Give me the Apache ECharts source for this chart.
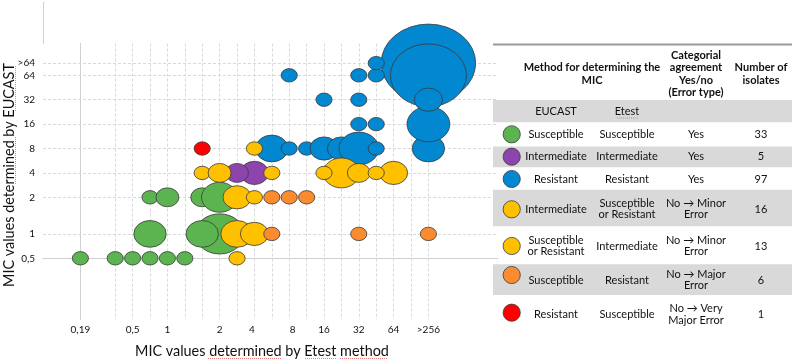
<!DOCTYPE html>
<html>
<head>
<meta charset="utf-8">
<script src="https://cdn.jsdelivr.net/npm/echarts@6/dist/echarts.min.js"></script>
<style>
	html, body { margin: 0; padding: 0; background: #fff; }
	#chart { width: 794px; height: 361px; }
</style>
</head>
<body>
<div id="chart"></div>
<script>
// Axis positions: x/y are dilution steps, labels are MIC values
let xGridPos = [0, 2, 3, 4, 5, 6, 7, 8, 9, 10, 11, 12, 13, 14, 15, 16, 17, 18, 19, 20];
let xLabelPos = [0, 3, 5, 8, 9.85, 12.2, 14, 16, 18, 20];
let xLabels = ['0,19', '0,5', '1', '2', '4', '8', '16', '32', '64', '>256'];
let yLabelPos = [0, 2, 5, 7, 9, 11, 13, 15, 16];
let yLabels = ['0,5', '1', '2', '4', '8', '16', '32', '64', '>64'];

// Bubbles: [etest step, eucast step, number of isolates]
let susSus = [[0, 0, 1], [2, 0, 1], [3, 0, 1], [4, 0, 1], [5, 0, 1], [6, 0, 1],
	[4, 2, 4], [8, 2, 9], [7, 2, 4],
	[4, 5, 1], [5, 5, 2], [7, 5, 2], [8, 5, 5]];
let intInt = [[10, 7, 3], [9, 7, 2]];
let resRes = [[20, 16, 34], [20, 15, 22], [20, 9, 4], [20, 11, 7], [20, 13, 3],
	[11, 9, 4], [12, 9, 1], [13, 9, 1], [14, 9, 3], [15, 9, 3], [16, 9, 6], [17, 9, 1],
	[16, 11, 1], [17, 11, 1], [14, 13, 1], [16, 13, 1],
	[12, 15, 1], [16, 15, 1], [17, 15, 1], [17, 16, 1]];
let intSorR = [[15, 7, 5], [18, 7, 3], [16, 7, 2], [14, 7, 1], [17, 7, 1], [7, 7, 1], [8, 7, 2], [11, 7, 1]];
let sorRInt = [[10, 9, 1], [9, 5, 3], [10, 5, 1], [9, 2, 4], [10, 2, 3], [9, 0, 1]];
let susRes = [[11, 5, 1], [12, 5, 1], [13, 5, 1], [11, 2, 1], [16, 2, 1], [20, 2, 1]];
let resSus = [[7, 9, 1]];

// Table on the right
let tableColors = ['#5BB450', '#8E44AD', '#0288D1', '#FFC000', '#FFC000', '#FA8B2F', '#FF0000'];
let tableEucast = ['Susceptible', 'Intermediate', 'Resistant', 'Intermediate', 'Susceptible\nor Resistant', 'Susceptible', 'Resistant'];
let tableEtest = ['Susceptible', 'Intermediate', 'Resistant', 'Susceptible\nor Resistant', 'Intermediate', 'Resistant', 'Susceptible'];
let tableAgreement = ['Yes', 'Yes', 'Yes', 'No \u2192 Minor\nError', 'No \u2192 Minor\nError', 'No \u2192 Major\nError', 'No \u2192 Very\nMajor Error'];
let tableIsolates = ['33', '5', '97', '16', '13', '6', '1'];

let font = 'Lato, "Open Sans", sans-serif';

function bubbleSize(d) {
	let w = 16.2 * Math.sqrt(d[2]);
	return [w, w / 1.21];
}

function bubbleSeries(name, data, color) {
	return {
		name: name,
		type: 'scatter',
		data: data,
		symbol: 'circle',
		symbolSize: bubbleSize,
		clip: false,
		itemStyle: { color: color, borderColor: '#3a3a3a', borderWidth: 0.8, opacity: 1 },
		emphasis: { disabled: true }
	};
}

// spell-check squiggle seen under some words of the original
function squiggle(x1, y1, x2, y2) {
	return { type: 'line', shape: { x1: x1, y1: y1, x2: x2, y2: y2 }, style: { stroke: '#f08080', lineWidth: 1, lineDash: [1, 1] } };
}

function tableGraphics() {
	let g = [];
	let left = 493, right = 792;
	let colX = [556, 627, 696, 761];
	// rows: [top, bottom, text y, circle y]
	let rows = [[122.7, 146, 134.3, 134.3], [146.5, 167.3, 156.7, 156.7], [167.8, 189.3, 179, 179],
		[189.8, 226.3, 209, 209.3], [226.8, 263.7, 246, 246], [264.2, 295, 280, 275], [295.5, 333, 314.3, 312.7]];

	g.push({ type: 'line', shape: { x1: left, y1: 44.5, x2: right, y2: 44.5 }, style: { stroke: '#9a9a9a', lineWidth: 2 } });
	g.push({ type: 'rect', shape: { x: left, y: 100, width: right - left, height: 22.2 }, style: { fill: '#d9d9d9' } });

	let head = { fontFamily: font, fontSize: 11, fontWeight: 'bold', fill: '#111', align: 'center', verticalAlign: 'middle', lineHeight: 12.6 };
	g.push({ type: 'text', style: Object.assign({ text: 'Method for determining the\nMIC', x: 592, y: 73.7 }, head) });
	g.push({ type: 'text', style: Object.assign({ text: 'Categorial\nagreement\nYes/no\n(Error type)', x: 696, y: 74 }, head) });
	g.push({ type: 'text', style: Object.assign({ text: 'Number of\nisolates', x: 761, y: 73.7 }, head) });

	let body = { fontFamily: font, fontSize: 11, fill: '#111', align: 'center', verticalAlign: 'middle', lineHeight: 11.8 };
	g.push({ type: 'text', style: Object.assign({ text: 'EUCAST', x: colX[0], y: 111.7 }, body) });
	g.push({ type: 'text', style: Object.assign({ text: 'Etest', x: colX[1], y: 111.7 }, body) });
	g.push(squiggle(617, 118, 638, 118));

	for (let i = 0; i < rows.length; i++) {
		let r = rows[i];
		if (i % 2 == 1) {
			g.push({ type: 'rect', shape: { x: left, y: r[0], width: right - left, height: r[1] - r[0] }, style: { fill: '#d9d9d9' } });
		}
		g.push({ type: 'circle', shape: { cx: 511.7, cy: r[3], r: 8.6 }, style: { fill: tableColors[i], stroke: '#3a3a3a', lineWidth: 0.8 } });
		let cells = [tableEucast[i], tableEtest[i], tableAgreement[i], tableIsolates[i]];
		for (let c = 0; c < cells.length; c++) {
			g.push({ type: 'text', style: Object.assign({ text: cells[c], x: colX[c], y: r[2] }, body) });
		}
	}
	return g;
}

let chart = echarts.init(document.getElementById('chart'), null, { renderer: 'canvas' });

let graphics = [
	// y axis line runs above the gridded area
	{ type: 'line', shape: { x1: 43.5, y1: 2, x2: 43.5, y2: 44 }, style: { stroke: '#d0d0d0', lineWidth: 1 } },
	{ type: 'text', style: { text: 'MIC values determined by Etest method', x: 262, y: 351, fontFamily: font, fontSize: 14.4, fill: '#111', align: 'center', verticalAlign: 'middle' } },
	{ type: 'text', rotation: Math.PI / 2, x: 9, y: 175, style: { text: 'MIC values determined by EUCAST', x: 0, y: 0, fontFamily: font, fontSize: 14.4, fill: '#111', align: 'center', verticalAlign: 'middle' } },
	squiggle(208, 358.5, 281, 358.5),
	squiggle(305, 358.5, 337, 358.5),
	squiggle(340, 358.5, 388, 358.5),
	squiggle(15.5, 66, 15.5, 112),
	squiggle(15.5, 137, 15.5, 184)
].concat(tableGraphics());

let option = {
	animation: false,
	grid: { left: 43, right: 296, top: 43.6, bottom: 41.7 },
	xAxis: {
		type: 'value',
		min: -2.15,
		max: 24,
		axisLine: { show: true, lineStyle: { color: '#d0d0d0' } },
		axisTick: { show: false, customValues: xGridPos },
		splitLine: { show: true, lineStyle: { color: '#d9d9d9', type: [3, 2] } },
		axisLabel: {
			customValues: xLabelPos,
			formatter: function (v) {
				let i = xLabelPos.indexOf(v);
				return i >= 0 ? xLabels[i] : '';
			},
			fontFamily: font, fontSize: 10, color: '#111', margin: 5
		}
	},
	yAxis: {
		type: 'value',
		min: -5,
		max: 17.6,
		axisLine: { show: true, lineStyle: { color: '#d0d0d0' } },
		axisTick: { show: false, customValues: yLabelPos },
		splitLine: { show: true, lineStyle: { color: '#d9d9d9', type: [3, 2] } },
		axisLabel: {
			customValues: yLabelPos,
			formatter: function (v) {
				let i = yLabelPos.indexOf(v);
				return i >= 0 ? yLabels[i] : '';
			},
			fontFamily: font, fontSize: 10, color: '#111', margin: 8
		}
	},
	graphic: graphics,
	series: [
		bubbleSeries('Susceptible / Susceptible', susSus, tableColors[0]),
		bubbleSeries('Intermediate / Intermediate', intInt, tableColors[1]),
		bubbleSeries('Resistant / Resistant', resRes, tableColors[2]),
		bubbleSeries('Intermediate / Susceptible or Resistant', intSorR, tableColors[3]),
		bubbleSeries('Susceptible or Resistant / Intermediate', sorRInt, tableColors[4]),
		bubbleSeries('Susceptible / Resistant', susRes, tableColors[5]),
		bubbleSeries('Resistant / Susceptible', resSus, tableColors[6])
	]
};

chart.setOption(option);
</script>
</body>
</html>
